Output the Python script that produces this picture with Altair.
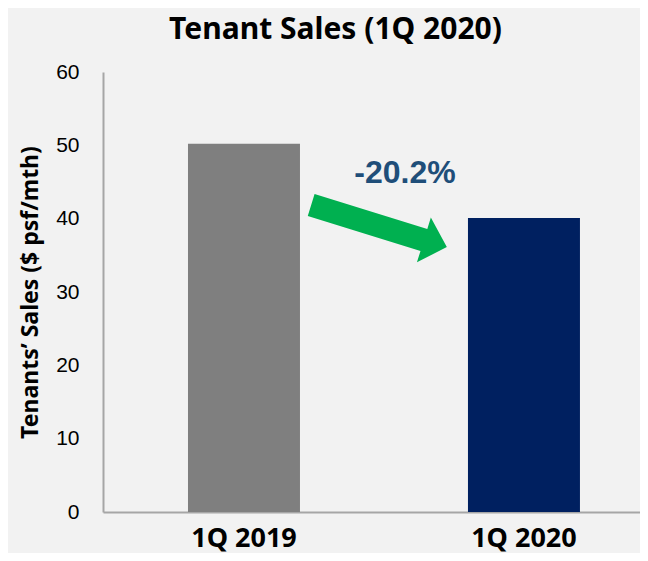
import altair as alt
import pandas as pd

quarters = ["1Q 2019", "1Q 2020"]
sales = [50.2, 40.1]
bar_colors = ["#7f7f7f", "#002060"]
change_label = ["-20.2%"]
label_level = [46.2]
arrow_level = [39.0]

df = pd.DataFrame({"quarter": quarters, "sales": sales, "color": bar_colors})
txt_df = pd.DataFrame({"label": change_label, "sales": label_level})
arr_df = pd.DataFrame({"sales": arrow_level})

x = alt.X(
    "quarter:N", sort=quarters, title=None,
    scale=alt.Scale(paddingInner=0.6, paddingOuter=0.259, align=0.586),
    axis=alt.Axis(labelAngle=0, labelFont="Noto Sans", labelFontWeight="bold",
                  labelFontSize=27, labelColor="black", labelPadding=13,
                  ticks=False, domainColor="#a6a6a6", domainWidth=2),
)
y = alt.Y(
    "sales:Q", scale=alt.Scale(domain=[0, 60]),
    axis=alt.Axis(values=[0, 10, 20, 30, 40, 50, 60], grid=False, ticks=False,
                  labelPadding=24, labelFont="Liberation Sans", labelFontSize=21,
                  labelColor="black", domainColor="#a6a6a6", domainWidth=2,
                  title="Tenants’ Sales ($ psf/mth)", titleFont="Noto Sans",
                  titleFontSize=23, titleFontWeight="bold", titleColor="black",
                  titleX=-73, titleY=220, titleAngle=-90, titleAlign="center",
                  titleBaseline="middle"),
)

bars = alt.Chart(df).mark_bar().encode(x=x, y=y, color=alt.Color("color:N", scale=None))

text = alt.Chart(txt_df).mark_text(
    font="Liberation Sans", fontSize=32, fontWeight="bold", color="#1f4e79",
    align="center", baseline="middle",
).encode(x=alt.value(302), y=alt.Y("sales:Q"), text="label:N")

arrow_path = ("M -1 -0.162 L 0.662 -0.162 L 0.662 -0.331 L 1 0 "
              "L 0.662 0.331 L 0.662 0.162 L -1 0.162 Z")
arrow = alt.Chart(arr_df).mark_point(
    shape=arrow_path, size=20164, angle=17.2, filled=True,
    color="#00b050", opacity=1, strokeWidth=0,
).encode(x=alt.value(276), y=alt.Y("sales:Q"))

chart = alt.layer(bars, arrow, text).properties(
    width=537, height=440,
    padding={"left": 95, "top": 64, "right": 0, "bottom": 41},
    autosize=alt.AutoSizeParams(type="none"),
    title=alt.TitleParams("Tenant Sales (1Q 2020)", font="Noto Sans", fontSize=30,
                          fontWeight="bold", color="black", anchor="middle",
                          dx=-36, dy=-12),
).configure(background="#f2f2f2").configure_view(stroke=None)

chart.save("out.html", embed_options={"renderer": "svg", "actions": False})
